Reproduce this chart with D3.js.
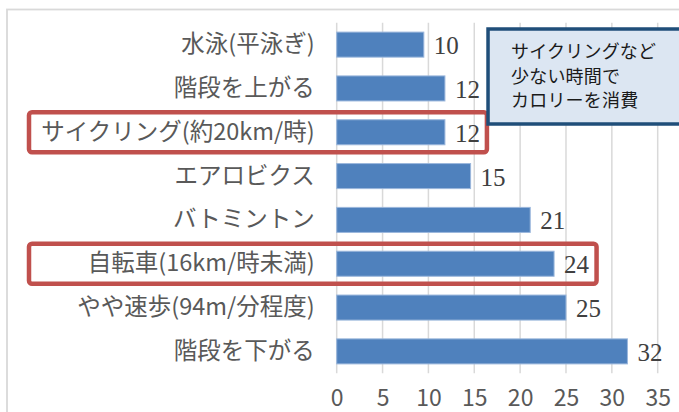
<!DOCTYPE html>
<html><head><meta charset="utf-8">
<script src="https://cdn.jsdelivr.net/npm/d3@7"></script>
<style>
html,body{margin:0;padding:0;background:#fff;}
svg{display:block;}
</style></head>
<body>
<svg id="chart" width="679" height="412"></svg>
<script>
const categories = ["水泳(平泳ぎ)","階段を上がる","サイクリング(約20km/時)","エアロビクス","バトミントン","自転車(16km/時未満)","やや速歩(94m/分程度)","階段を下がる"];
const values = [9.5, 11.8, 11.8, 14.6, 21.1, 23.7, 25.0, 31.7];
const xTicks = [0,5,10,15,20,25,30,35];
const highlighted = ["サイクリング(約20km/時)","自転車(16km/時未満)"];
const calloutLines = ["サイクリングなど","少ない時間で","カロリーを消費"];

const svg = d3.select("#chart");
const W = 679, H = 412;
const plot = {left: 336.7, right: 657.7, top: 22.7, bottom: 373.3};
const jp = "'Noto Sans CJK JP','Noto Sans',sans-serif";

// frame
svg.append("rect").attr("x",7).attr("y",9.5).attr("width",W+20).attr("height",H+20)
  .attr("fill","#fff").attr("stroke","#d9d9d9").attr("stroke-width",1.8);

const x = d3.scaleLinear().domain([0,35]).range([plot.left, plot.right]);
const y = d3.scaleBand().domain(categories).range([plot.top, plot.bottom])
  .paddingInner(0.75/1.75).paddingOuter(0.375/1.75);

// gridlines
svg.append("g").selectAll("line").data(xTicks).join("line")
  .attr("x1", d => x(d)).attr("x2", d => x(d))
  .attr("y1", plot.top).attr("y2", plot.bottom)
  .attr("stroke","#d9d9d9").attr("stroke-width",1.5);

// x axis labels
const xAxis = svg.append("g").attr("transform",`translate(0,${plot.bottom})`)
  .call(d3.axisBottom(x).tickValues(xTicks).tickSize(0).tickPadding(16).tickFormat(d3.format("d")));
xAxis.select(".domain").remove();
xAxis.selectAll("text").attr("font-family", jp).attr("font-size", 23).attr("fill","#595959");

// y axis labels
const yAxis = svg.append("g").attr("transform",`translate(${plot.left},0)`)
  .call(d3.axisLeft(y).tickSize(0).tickPadding(22));
yAxis.select(".domain").remove();
yAxis.selectAll("text").attr("font-family", jp).attr("font-size", 23.5).attr("fill","#595959");

// bars
svg.append("g").selectAll("rect").data(values).join("rect")
  .attr("x", x(0)).attr("y", (d,i) => y(categories[i]))
  .attr("width", d => x(d) - x(0)).attr("height", y.bandwidth())
  .attr("fill","#4f81bd").attr("stroke","#9bb7dc").attr("stroke-width",1);

// value labels
const vlab = svg.append("g").selectAll("text").data(values).join("text")
  .attr("x", d => x(d) + 10).attr("y", (d,i) => y(categories[i]) + y.bandwidth()/2)
  .attr("dy","0.38em")
  .attr("font-family","'Liberation Serif','Times New Roman',serif").attr("font-size",25)
  .attr("fill","#404040")
  .text(d => d3.format(".0f")(d));

// highlight boxes
const labNodes = vlab.nodes();
highlighted.forEach(cat => {
  const i = categories.indexOf(cat);
  const bb = labNodes[i].getBBox();
  const cy = y(cat) + y.bandwidth()/2;
  const x0 = 29;
  svg.append("rect").attr("x", x0).attr("y", cy - 20)
    .attr("width", bb.x + bb.width + 7 - x0).attr("height", 40)
    .attr("rx",3).attr("fill","none").attr("stroke","#c0504d").attr("stroke-width",4.5);
});

// callout
const cx = x(16.5), cyTop = 29;
svg.append("rect").attr("x", cx).attr("y", cyTop).attr("width", W).attr("height", 95)
  .attr("fill","#dce6f2").attr("stroke","#1f4e79").attr("stroke-width",3.5);
svg.append("g").selectAll("text").data(calloutLines).join("text")
  .attr("x", cx + 23).attr("y", (d,i) => cyTop + 29 + i*24.5)
  .attr("font-family", jp).attr("font-size",18).attr("letter-spacing","0.2px")
  .attr("fill","#1a1a1a").text(d => d);
</script>
</body></html>
